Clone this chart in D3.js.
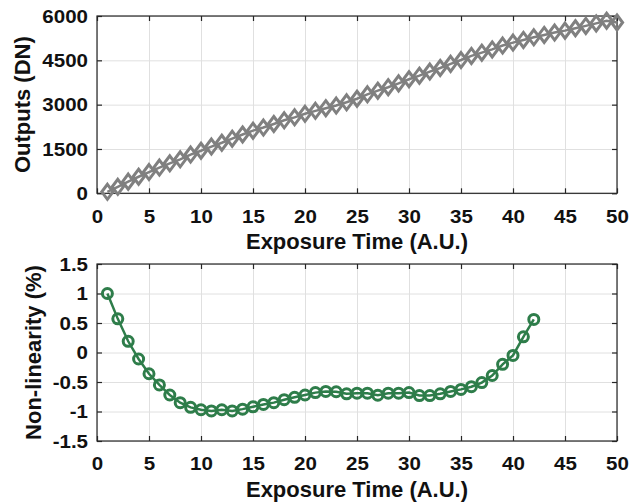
<!DOCTYPE html>
<html><head><meta charset="utf-8">
<script src="https://cdn.jsdelivr.net/npm/d3@7"></script>
<style>body{margin:0;background:#fff}svg{display:block}</style>
</head><body><svg id="c" width="640" height="502"></svg>
<script>
// ---- data ----
const exposure = [1,2,3,4,5,6,7,8,9,10,11,12,13,14,15,16,17,18,19,20,21,22,23,24,25,26,27,28,29,30,31,32,33,34,35,36,37,38,39,40,41,42,43,44,45,46,47,48,49,50];
const outputs = [50,220,395,560,720,870,1015,1150,1310,1440,1580,1710,1850,1990,2120,2225,2345,2470,2570,2690,2790,2880,2970,3080,3200,3350,3474,3590,3720,3860,3980,4120,4240,4380,4510,4650,4760,4870,5000,5100,5190,5280,5360,5440,5505,5585,5665,5750,5840,5780];
const nonlinearity = [1.0,0.57,0.19,-0.11,-0.36,-0.55,-0.72,-0.85,-0.93,-0.97,-0.99,-0.97,-0.99,-0.96,-0.92,-0.88,-0.85,-0.80,-0.76,-0.72,-0.68,-0.66,-0.665,-0.70,-0.69,-0.69,-0.725,-0.69,-0.69,-0.68,-0.73,-0.73,-0.70,-0.66,-0.625,-0.58,-0.51,-0.39,-0.20,-0.05,0.265,0.56];
const xTicks = [0,5,10,15,20,25,30,35,40,45,50];
const xTickLabels = ["0","5","10","15","20","25","30","35","40","45","50"];
const yTicksTop = [0,1500,3000,4500,6000];
const yTickLabelsTop = ["0","1500","3000","4500","6000"];
const yTicksBot = [-1.5,-1,-0.5,0,0.5,1,1.5];
const yTickLabelsBot = ["-1.5","-1","-0.5","0","0.5","1","1.5"];
const xTitle = "Exposure Time (A.U.)";
const yTitleTop = "Outputs (DN)";
const yTitleBot = "Non-linearity (%)";

// ---- layout ----
const svg = d3.select("#c");
svg.append("rect").attr("width",640).attr("height",502).attr("fill","#fff");
const L = 97, R = 617;
const FONT = "'Liberation Sans', Arial, Helvetica, sans-serif";
const SX = 1.08;

function panel(T, B, yDom, yTicks, yLabels, yTitle, yTitleX, xs, ys, kind) {
  const x = d3.scaleLinear().domain([0,50]).range([L,R]);
  const y = d3.scaleLinear().domain(yDom).range([B,T]);
  const g = svg.append("g");
  // grid
  const gx = g.append("g").attr("transform",`translate(0,${B})`)
    .call(d3.axisBottom(x).tickValues(xTicks).tickSize(-(B-T)).tickFormat(""));
  const gy = g.append("g").attr("transform",`translate(${L},0)`)
    .call(d3.axisLeft(y).tickValues(yTicks).tickSize(-(R-L)).tickFormat(""));
  [gx,gy].forEach(a=>{a.select(".domain").remove(); a.selectAll("line").attr("stroke","#e0e0e0").attr("stroke-width",1);});
  // box
  g.append("rect").attr("x",L).attr("y",T).attr("width",R-L).attr("height",B-T)
    .attr("fill","none").attr("stroke","#262626").attr("stroke-width",1.2);
  // axes
  const ab = g.append("g").attr("transform",`translate(0,${B})`)
    .call(d3.axisBottom(x).tickValues(xTicks).tickSizeInner(-5).tickSizeOuter(0).tickPadding(16)
      .tickFormat((d,i)=>xTickLabels[i]));
  const at = g.append("g").attr("transform",`translate(0,${T})`)
    .call(d3.axisTop(x).tickValues(xTicks).tickSizeInner(-5).tickSizeOuter(0).tickFormat(""));
  const al = g.append("g").attr("transform",`translate(${L},0)`)
    .call(d3.axisLeft(y).tickValues(yTicks).tickSizeInner(-5).tickSizeOuter(0).tickPadding(9)
      .tickFormat((d,i)=>yLabels[i]));
  const ar = g.append("g").attr("transform",`translate(${R},0)`)
    .call(d3.axisRight(y).tickValues(yTicks).tickSizeInner(-5).tickSizeOuter(0).tickFormat(""));
  [ab,at,al,ar].forEach(a=>{a.select(".domain").remove(); a.selectAll("line").attr("stroke","#262626").attr("stroke-width",1.2);});
  [ab,al].forEach(a=>a.selectAll("text").attr("font-family",FONT).attr("font-weight","bold")
     .attr("font-size",19).attr("fill","#111").attr("transform",`scale(${SX},1)`));
  al.selectAll("text").attr("x",-9/SX);
  // titles
  g.append("text").attr("x",(L+R)/2).attr("y",B+56).attr("text-anchor","middle")
    .attr("font-family",FONT).attr("font-weight","bold").attr("font-size",22).attr("fill","#111").text(xTitle);
  g.append("text").attr("transform",`translate(${yTitleX},${(T+B)/2}) rotate(-90)`).attr("text-anchor","middle")
    .attr("font-family",FONT).attr("font-weight","bold").attr("font-size",22).attr("fill","#111").text(yTitle);
  // data
  const pts = ys.map((v,i)=>[xs[i],v]);
  const color = kind==="diamond" ? "#808080" : "#2e7d4a";
  g.append("path").datum(pts).attr("fill","none").attr("stroke",color).attr("stroke-width",2.5)
    .attr("d",d3.line().x(d=>x(d[0])).y(d=>y(d[1])));
  if (kind==="diamond") {
    g.selectAll(".mk").data(pts).join("path").attr("class","mk")
      .attr("transform",d=>`translate(${x(d[0])},${y(d[1])})`)
      .attr("d","M0,-7.5L5.6,0L0,7.5L-5.6,0Z").attr("fill","none").attr("stroke",color).attr("stroke-width",3);
  } else {
    g.selectAll(".mk").data(pts).join("circle").attr("class","mk")
      .attr("cx",d=>x(d[0])).attr("cy",d=>y(d[1])).attr("r",5)
      .attr("fill","none").attr("stroke",color).attr("stroke-width",3);
  }
}

panel(16, 193.3, [0,6000], yTicksTop, yTickLabelsTop, yTitleTop, 30, exposure, outputs, "diamond");
panel(264, 441, [-1.5,1.5], yTicksBot, yTickLabelsBot, yTitleBot, 41, exposure.slice(0, nonlinearity.length), nonlinearity, "circle");
</script></body></html>
